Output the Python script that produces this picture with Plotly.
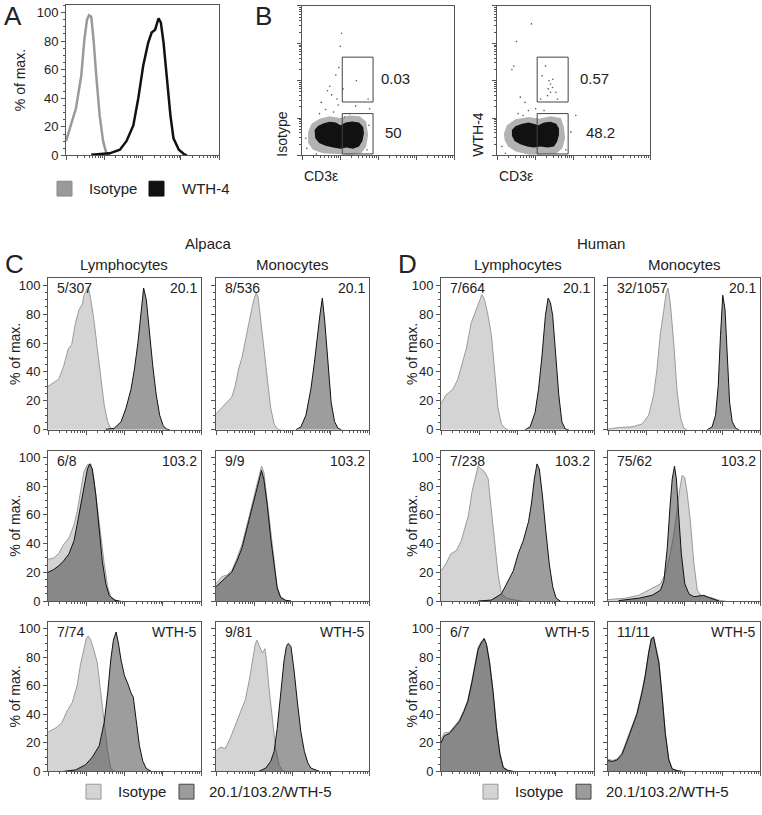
import numpy as np
import plotly.graph_objects as go

W, H = 762, 815
FONT = 'Liberation Sans, Arial, sans-serif'
INK = '#222222'
FRAME = '#555555'
ISO_FILL = '#d4d4d4'
ISO_LINE = '#9a9a9a'
POS_FILL = 'rgba(60,60,60,0.5)'
POS_LINE = '#111111'

# ---------------- data (x in log decades, y in % of max) ----------------
# A
a_iso_d = [0, 0.26, 0.40, 0.48, 0.55, 0.60, 0.66, 0.72, 0.79, 0.88, 0.97, 1.05, 1.14]
a_iso_v = [10, 33, 56, 81, 95, 98, 97, 81, 56, 28, 10, 2, 0]
a_wth_d = [0.66, 1.14, 1.41, 1.58, 1.76, 1.89, 2.02, 2.15, 2.24, 2.33, 2.42, 2.48, 2.55, 2.64, 2.73, 2.81, 2.95, 3.08, 3.16]
a_wth_v = [0.5, 1.5, 4, 10, 21, 40, 63, 79, 86, 88, 96, 93, 79, 51, 28, 12, 4, 1, 0]

# B (dot plot: outline of dense cluster, halo, sparse events, gates)
b1_core_x = [0.33, 0.42, 0.57, 0.73, 0.89, 1.01, 1.15, 1.32, 1.50, 1.61, 1.63, 1.59, 1.50, 1.34, 1.17, 1.01, 0.82, 0.62, 0.45, 0.35]
b1_core_y = [0.68, 0.79, 0.86, 0.90, 0.88, 0.81, 0.88, 0.91, 0.88, 0.76, 0.59, 0.39, 0.24, 0.18, 0.21, 0.18, 0.21, 0.26, 0.33, 0.46]
b1_halo_x = [0.16, 0.25, 0.46, 0.73, 0.99, 1.25, 1.52, 1.69, 1.74, 1.69, 1.56, 1.25, 0.90, 0.55, 0.29, 0.16]
b1_halo_y = [0.63, 0.85, 0.98, 1.05, 1.00, 1.07, 1.05, 0.90, 0.55, 0.24, 0.06, 0.02, 0.04, 0.06, 0.15, 0.33]
b1_dots_x = [1.04, 1.01, 0.97, 0.89, 0.73, 0.67, 0.78, 0.92, 0.95, 0.62, 0.46, 0.83, 1.12, 1.25, 1.43, 1.41, 1.74, 1.78, 0.10, 0.13, 0.38, 1.71, 1.76, 0.51, 1.08]
b1_dots_y = [3.27, 2.92, 2.35, 2.15, 1.85, 1.73, 1.62, 1.51, 1.35, 1.23, 1.12, 1.16, 1.03, 1.12, 2.00, 1.32, 1.51, 1.25, 0.46, 0.19, 0.04, 0.15, 0.81, 1.42, 1.78]
b1_gate_hi = [1.06, 1.87, 1.43, 2.63]
b1_gate_lo = [1.06, 1.87, 0.04, 1.12]
b1_pct = ['0.03', '50']

b2_core_x = [0.39, 0.48, 0.64, 0.82, 0.96, 1.08, 1.23, 1.40, 1.55, 1.62, 1.62, 1.57, 1.49, 1.32, 1.14, 0.96, 0.79, 0.61, 0.46, 0.39]
b2_core_y = [0.68, 0.78, 0.84, 0.88, 0.85, 0.81, 0.88, 0.90, 0.85, 0.72, 0.55, 0.37, 0.24, 0.21, 0.24, 0.21, 0.24, 0.30, 0.39, 0.53]
b2_halo_x = [0.18, 0.26, 0.48, 0.83, 1.10, 1.40, 1.67, 1.75, 1.78, 1.71, 1.54, 1.18, 0.83, 0.48, 0.29, 0.20]
b2_halo_y = [0.59, 0.81, 0.97, 1.03, 0.98, 1.05, 1.00, 0.76, 0.46, 0.19, 0.04, 0.02, 0.02, 0.11, 0.24, 0.41]
b2_dots_x = [0.90, 0.51, 0.44, 0.39, 0.61, 0.73, 0.82, 0.55, 0.68, 1.36, 1.40, 1.45, 1.34, 1.46, 1.32, 1.54, 1.18, 1.27, 1.58, 1.40, 1.01, 2.06, 1.93, 0.13, 0.22, 1.80, 1.23, 1.14]
b2_dots_y = [3.52, 3.05, 2.39, 2.30, 1.56, 1.42, 1.20, 1.12, 1.07, 2.00, 1.91, 1.82, 1.78, 2.04, 1.60, 1.69, 2.13, 2.39, 1.51, 1.69, 1.25, 1.07, 0.63, 0.24, 0.06, 0.15, 1.20, 1.51]
b2_gate_hi = [1.05, 1.86, 1.43, 2.63]
b2_gate_lo = [1.05, 1.86, 0.04, 1.12]
b2_pct = ['0.57', '48.2']

# C / D histograms, rows: 20.1, 103.2, WTH-5
cl1_iso_d = [0, 0.15, 0.28, 0.41, 0.53, 0.62, 0.72, 0.81, 0.90, 0.94, 1.00, 1.05, 1.12, 1.20, 1.29, 1.38, 1.47, 1.56, 1.64, 1.73]
cl1_iso_v = [30, 33, 35, 44, 56, 59, 74, 83, 87, 93, 97, 99, 90, 76, 56, 37, 17, 5.5, 1, 0]
cl1_pos_d = [1.51, 1.73, 1.91, 2.04, 2.17, 2.26, 2.35, 2.44, 2.50, 2.57, 2.65, 2.74, 2.83, 2.92, 3.01, 3.09, 3.18]
cl1_pos_v = [0.3, 1, 5.5, 15, 28, 42, 60, 83, 98, 90, 67, 44, 24, 10, 3, 0.5, 0]

cm1_iso_d = [0, 0.15, 0.28, 0.41, 0.50, 0.59, 0.68, 0.77, 0.85, 0.93, 0.99, 1.05, 1.10, 1.16, 1.25, 1.34, 1.43, 1.52, 1.60, 1.69]
cm1_iso_v = [11, 15, 19, 22.5, 30, 42, 50, 62, 74, 83, 90, 94.5, 92, 78, 56, 33, 15, 4, 0.5, 0]
cm1_pos_d = [2.09, 2.22, 2.35, 2.48, 2.57, 2.66, 2.72, 2.78, 2.84, 2.93, 3.01, 3.10, 3.19, 3.28]
cm1_pos_v = [0, 2, 10, 28, 46, 69, 80, 91, 76, 46, 19, 5.5, 1, 0]

dl1_iso_d = [0, 0.13, 0.22, 0.31, 0.44, 0.57, 0.66, 0.79, 0.92, 1.01, 1.07, 1.14, 1.23, 1.32, 1.41, 1.49, 1.58, 1.67, 1.76]
dl1_iso_v = [18, 24, 26, 28, 35, 47, 56, 74, 83, 90, 93.5, 90, 79, 65, 37.5, 15, 4, 1, 0]
dl1_pos_d = [2.20, 2.33, 2.46, 2.55, 2.64, 2.73, 2.80, 2.86, 2.92, 2.99, 3.08, 3.16, 3.25, 3.34]
dl1_pos_v = [0, 2, 12, 28, 51, 79, 91, 88, 79, 53, 24, 5.5, 0.5, 0]

dm1_iso_d = [0, 0.28, 0.63, 0.90, 1.07, 1.20, 1.29, 1.38, 1.47, 1.53, 1.58, 1.64, 1.73, 1.82, 1.91, 2.00, 2.08]
dm1_iso_v = [0.5, 1.5, 2, 4, 10, 24, 42, 67, 83, 94.5, 98, 87.5, 60, 26, 8, 1, 0]
dm1_pos_d = [2.61, 2.74, 2.83, 2.90, 2.96, 3.02, 3.08, 3.14, 3.20, 3.27, 3.36, 3.45]
dm1_pos_v = [0, 2, 10, 30, 65, 93, 83, 46, 19, 5.5, 1, 0]

cl2_iso_d = [0, 0.15, 0.28, 0.41, 0.55, 0.68, 0.76, 0.85, 0.94, 1.03, 1.12, 1.20, 1.29, 1.38, 1.47, 1.56, 1.64, 1.78, 1.91]
cl2_iso_v = [29, 30, 33, 39.5, 44, 53, 62, 76, 90, 95, 95.5, 85, 67, 46, 26, 10, 3, 0.5, 0]
cl2_pos_d = [0, 0.15, 0.28, 0.41, 0.55, 0.68, 0.76, 0.85, 0.94, 1.03, 1.09, 1.16, 1.25, 1.34, 1.42, 1.51, 1.60, 1.73, 1.86]
cl2_pos_v = [20, 22, 24.5, 28, 33, 42, 53, 67, 80.5, 92, 95.5, 92, 74, 51, 28, 12, 4, 0.7, 0]

cm2_iso_d = [0, 0.15, 0.28, 0.41, 0.55, 0.68, 0.81, 0.94, 1.03, 1.12, 1.19, 1.25, 1.34, 1.43, 1.52, 1.60, 1.69, 1.82, 1.96]
cm2_iso_v = [12, 17, 18, 21, 30, 39.5, 53, 67, 76, 87.5, 94, 90, 69, 46, 26, 10, 3, 0.5, 0]
cm2_pos_d = [0, 0.15, 0.28, 0.41, 0.55, 0.68, 0.81, 0.94, 1.03, 1.12, 1.19, 1.25, 1.34, 1.43, 1.52, 1.60, 1.69, 1.82, 1.96]
cm2_pos_v = [10, 14, 17, 20, 28, 37, 51, 65, 73, 83, 91, 85, 67, 44, 23.5, 9, 2.5, 0.5, 0]

dl2_iso_d = [0, 0.13, 0.26, 0.40, 0.53, 0.63, 0.72, 0.81, 0.90, 0.97, 1.05, 1.14, 1.23, 1.32, 1.41, 1.49, 1.58, 1.71, 1.93, 2.11]
dl2_iso_v = [21, 26, 33, 35, 42, 51, 60, 76, 87.5, 94, 92, 90, 85.5, 62, 42, 19, 5, 2, 0.7, 0]
dl2_pos_d = [0.97, 1.32, 1.58, 1.76, 1.89, 2.02, 2.15, 2.29, 2.37, 2.44, 2.51, 2.57, 2.65, 2.74, 2.83, 2.92, 3.01, 3.12]
dl2_pos_v = [0, 0.7, 5, 14, 21, 33, 42, 55.5, 69, 85, 95.5, 92, 74, 49, 26, 10, 2, 0]

dm2_iso_d = [0, 0.46, 0.81, 1.07, 1.25, 1.38, 1.51, 1.64, 1.73, 1.82, 1.89, 1.95, 2.02, 2.08, 2.17, 2.26, 2.35, 2.44, 2.57, 2.70, 2.83, 2.96, 3.09]
dm2_iso_v = [1, 2, 4, 7.5, 10, 12, 19, 33, 46, 65, 78, 87.5, 86, 76, 55, 26, 7.5, 4, 3.5, 2.5, 1.4, 0.3, 0]
dm2_pos_d = [0.28, 0.81, 1.16, 1.38, 1.47, 1.56, 1.63, 1.69, 1.75, 1.80, 1.86, 1.93, 2.02, 2.13, 2.26, 2.39, 2.52, 2.65, 2.79, 2.92]
dm2_pos_v = [0.3, 2, 4, 7.5, 14, 37, 65, 85, 94, 85, 60, 33, 12, 5, 3, 3.5, 4, 2.5, 1, 0]

cl3_iso_d = [0, 0.11, 0.24, 0.37, 0.50, 0.63, 0.76, 0.85, 0.94, 1.00, 1.05, 1.12, 1.20, 1.29, 1.38, 1.47, 1.56, 1.64, 1.73]
cl3_iso_v = [27.5, 29, 31, 34.5, 42.5, 48, 60, 75, 85, 93, 95, 92, 85, 76, 55, 32, 14, 2, 0]
cl3_pos_d = [0.41, 0.72, 0.98, 1.16, 1.34, 1.47, 1.56, 1.64, 1.71, 1.78, 1.84, 1.91, 2.00, 2.08, 2.17, 2.23, 2.30, 2.39, 2.48, 2.57, 2.70]
cl3_pos_v = [0, 1, 4.6, 10, 18, 34.5, 55, 78, 92, 97.7, 90, 78, 67, 62, 55, 52, 37, 18, 7, 2, 0]

cm3_iso_d = [0, 0.11, 0.24, 0.37, 0.50, 0.63, 0.77, 0.87, 0.96, 1.03, 1.07, 1.14, 1.21, 1.28, 1.32, 1.38, 1.47, 1.56, 1.65, 1.74, 1.82]
cm3_iso_v = [14, 17, 16, 23, 32, 41, 50.5, 64, 78, 89.7, 92, 87.5, 83, 86, 78, 60, 37, 16, 4.6, 0.5, 0]
cm3_pos_d = [1.12, 1.30, 1.43, 1.52, 1.60, 1.69, 1.78, 1.84, 1.89, 1.96, 2.04, 2.13, 2.22, 2.31, 2.40, 2.48, 2.62, 2.70]
cm3_pos_v = [0, 2.3, 7, 14, 30, 53, 78, 87.5, 89.7, 87.5, 71, 48, 27.5, 14, 6, 2.3, 0.5, 0]

dl3_iso_d = [0, 0.09, 0.22, 0.35, 0.48, 0.60, 0.70, 0.81, 0.90, 0.97, 1.05, 1.13, 1.19, 1.27, 1.36, 1.45, 1.54, 1.63, 1.76, 1.89]
dl3_iso_v = [22.5, 27, 27.5, 31.6, 36, 43, 50, 64, 77.5, 87, 91, 93.5, 89, 77.5, 57, 31.6, 13, 3, 0.5, 0]
dl3_pos_d = [0, 0.09, 0.22, 0.35, 0.48, 0.60, 0.70, 0.81, 0.90, 0.97, 1.05, 1.13, 1.19, 1.27, 1.36, 1.45, 1.54, 1.63, 1.76, 1.89]
dl3_pos_v = [20, 25, 26.6, 30.5, 35, 42, 49, 62.6, 76, 85.5, 90, 93, 89, 76, 56, 30.5, 12, 2.5, 0.5, 0]

dm3_iso_d = [0, 0.11, 0.24, 0.37, 0.50, 0.63, 0.76, 0.90, 0.98, 1.07, 1.14, 1.20, 1.27, 1.34, 1.42, 1.51, 1.60, 1.69, 1.82, 1.95]
dm3_iso_v = [8.7, 7.6, 8.7, 13, 22.5, 31.6, 41, 57, 68, 84, 93, 94.7, 86.7, 77.5, 55, 27, 8.7, 2, 0.5, 0]
dm3_pos_d = [0, 0.11, 0.24, 0.37, 0.50, 0.63, 0.76, 0.90, 0.98, 1.07, 1.14, 1.20, 1.27, 1.34, 1.42, 1.51, 1.60, 1.69, 1.82, 1.95]
dm3_pos_v = [7.6, 6.9, 8, 12, 21, 30.5, 40, 56, 67, 83, 93, 94, 85.5, 76, 53.7, 26, 8, 1.6, 0.5, 0]

c_counts = [['5/307', '8/536'], ['6/8', '9/9'], ['7/74', '9/81']]
d_counts = [['7/664', '32/1057'], ['7/238', '75/62'], ['6/7', '11/11']]
antibodies = ['20.1', '103.2', 'WTH-5']
species = ['Alpaca', 'Human']
cell_types = ['Lymphocytes', 'Monocytes']

# ---------------- layout helpers ----------------
fig = go.Figure()
axes = {}
annos = []
shapes = []
count = [0]
minor_log = [d + np.log10(k) for d in range(4) for k in range(2, 10)]


def dom(x0, x1, y0, y1):
    return [x0 / W, x1 / W], [1 - y1 / H, 1 - y0 / H]


def add_axes(box, yrange=None, log_y=False, ylabels=True):
    count[0] += 1
    s = '' if count[0] == 1 else str(count[0])
    xd, yd = dom(*box)
    common = dict(showgrid=False, zeroline=False, showline=True, linecolor=FRAME, linewidth=1,
                  mirror=True, ticks='outside', tickcolor=FRAME, ticklen=4, tickwidth=1,
                  fixedrange=True)
    log_minor = dict(tickmode='array', tickvals=minor_log, ticks='outside', ticklen=2, tickcolor=FRAME)
    axes['xaxis' + s] = dict(domain=xd, range=[0, 4], tickmode='array', tickvals=[0, 1, 2, 3, 4],
                             showticklabels=False, minor=log_minor, anchor='y' + s, **common)
    if log_y:
        axes['yaxis' + s] = dict(domain=yd, range=[0, 4], tickmode='array', tickvals=[0, 1, 2, 3, 4],
                                 showticklabels=False, minor=log_minor, anchor='x' + s, **common)
    else:
        axes['yaxis' + s] = dict(domain=yd, range=yrange, tickmode='array', tickvals=[0, 20, 40, 60, 80, 100],
                                 showticklabels=ylabels, tickfont=dict(size=13, color=INK),
                                 minor=dict(tickmode='linear', tick0=0, dtick=5, ticks='outside', ticklen=2, tickcolor=FRAME),
                                 anchor='x' + s, **common)
    return 'x' + s, 'y' + s


def text(x, y, t, size=14, xanchor='center', yanchor='middle', angle=0, xref='paper', yref='paper'):
    annos.append(dict(x=x, y=y, text=t, showarrow=False, xref=xref, yref=yref, xanchor=xanchor,
                      yanchor=yanchor, textangle=angle, font=dict(family=FONT, size=size, color=INK)))


def hist(xa, ya, d, v, fill, line):
    fig.add_trace(go.Scatter(x=d, y=v, mode='lines', fill='tozeroy', fillcolor=fill,
                             line=dict(color=line, width=1), xaxis=xa, yaxis=ya,
                             showlegend=False, hoverinfo='skip'))


def swatch(x0, y0, size, fill, line):
    shapes.append(dict(type='rect', xref='paper', yref='paper', x0=x0 / W, x1=(x0 + size) / W,
                       y0=1 - (y0 + size) / H, y1=1 - y0 / H, fillcolor=fill, line=dict(color=line, width=1)))


# ---------------- panel A ----------------
xa, ya = add_axes((66, 219, 5, 157), yrange=[0, 105.3])
fig.add_trace(go.Scatter(x=a_iso_d, y=a_iso_v, mode='lines', line=dict(color='#9a9a9a', width=2.5),
                         xaxis=xa, yaxis=ya, showlegend=False, hoverinfo='skip'))
fig.add_trace(go.Scatter(x=a_wth_d, y=a_wth_v, mode='lines', line=dict(color='#111111', width=2.5),
                         xaxis=xa, yaxis=ya, showlegend=False, hoverinfo='skip'))
text(2 / W, 1 - 16 / H, 'A', size=26, xanchor='left')
text(20 / W, 1 - 81 / H, '% of max.', angle=-90)
swatch(57, 183, 15, '#9a9a9a', '#8a8a8a')
text(87 / W, 1 - 190 / H, 'Isotype', size=15, xanchor='left')
swatch(149, 183, 15, '#111111', '#111111')
text(180 / W, 1 - 190 / H, 'WTH-4', size=15, xanchor='left')

# ---------------- panel B ----------------
text(253 / W, 1 - 16 / H, 'B', size=26, xanchor='left')
b_sets = [((302, 454, 6, 157), b1_halo_x, b1_halo_y, b1_core_x, b1_core_y, b1_dots_x, b1_dots_y,
           b1_gate_hi, b1_gate_lo, b1_pct, 'Isotype', 282, 0.0),
          ((497, 650, 6, 157), b2_halo_x, b2_halo_y, b2_core_x, b2_core_y, b2_dots_x, b2_dots_y,
           b2_gate_hi, b2_gate_lo, b2_pct, 'WTH-4', 478, 0.1)]
for box, hx, hy, cx, cy, dx, dy, ghi, glo, pct, ylab, ylab_x, shift in b_sets:
    xa, ya = add_axes(box, log_y=True)
    fig.add_trace(go.Scatter(x=hx, y=hy, mode='lines', fill='toself', fillcolor='rgba(0,0,0,0.3)',
                             line=dict(width=0), xaxis=xa, yaxis=ya, showlegend=False, hoverinfo='skip'))
    fig.add_trace(go.Scatter(x=cx, y=cy, mode='lines', fill='toself', fillcolor='#111111',
                             line=dict(width=0), xaxis=xa, yaxis=ya, showlegend=False, hoverinfo='skip'))
    fig.add_trace(go.Scatter(x=dx, y=dy, mode='markers', marker=dict(size=1.6, color='#555555'),
                             xaxis=xa, yaxis=ya, showlegend=False, hoverinfo='skip'))
    for g in (ghi, glo):
        fig.add_trace(go.Scatter(x=[g[0], g[1], g[1], g[0], g[0]], y=[g[2], g[2], g[3], g[3], g[2]],
                                 mode='lines', line=dict(color='#444444', width=1),
                                 xaxis=xa, yaxis=ya, showlegend=False, hoverinfo='skip'))
    text(2.03 + shift, 2.06, pct[0], size=15, xanchor='left', xref=xa, yref=ya)
    text(2.13 + shift * 1.5, 0.62, pct[1], size=15, xanchor='left', xref=xa, yref=ya)
    text(ylab_x / W, 1 - 136 / H, ylab, angle=-90)
    text(box[0] / W, 1 - 178 / H, 'CD3ε', xanchor='left')

# ---------------- panels C and D ----------------
rows = [(281, 434), (455, 607), (628, 779)]
cols = [[(48, 201), (216, 369)], [(441, 594), (608, 760)]]
curves = [
    [[(cl1_iso_d, cl1_iso_v, cl1_pos_d, cl1_pos_v), (cm1_iso_d, cm1_iso_v, cm1_pos_d, cm1_pos_v)],
     [(cl2_iso_d, cl2_iso_v, cl2_pos_d, cl2_pos_v), (cm2_iso_d, cm2_iso_v, cm2_pos_d, cm2_pos_v)],
     [(cl3_iso_d, cl3_iso_v, cl3_pos_d, cl3_pos_v), (cm3_iso_d, cm3_iso_v, cm3_pos_d, cm3_pos_v)]],
    [[(dl1_iso_d, dl1_iso_v, dl1_pos_d, dl1_pos_v), (dm1_iso_d, dm1_iso_v, dm1_pos_d, dm1_pos_v)],
     [(dl2_iso_d, dl2_iso_v, dl2_pos_d, dl2_pos_v), (dm2_iso_d, dm2_iso_v, dm2_pos_d, dm2_pos_v)],
     [(dl3_iso_d, dl3_iso_v, dl3_pos_d, dl3_pos_v), (dm3_iso_d, dm3_iso_v, dm3_pos_d, dm3_pos_v)]],
]
counts = [c_counts, d_counts]
letters = ['C', 'D']
ytitle_x = [15, 412]
legend_x = [86, 483]

for p in range(2):
    c0 = cols[p][0][0]
    c1 = cols[p][1][1]
    text((c0 + c1) / 2 / W, 1 - 246 / H, species[p], size=15)
    text((c0 - 45) / W, 1 - 267 / H, letters[p], size=26, xanchor='left')
    for c in range(2):
        x0, x1 = cols[p][c]
        text((x0 + x1) / 2 / W, 1 - 267 / H, cell_types[c], size=15)
    for r in range(3):
        y0, y1 = rows[r]
        text(ytitle_x[p] / W, 1 - (y0 + y1) / 2 / H, '% of max.', angle=-90)
        for c in range(2):
            x0, x1 = cols[p][c]
            top = 100 * (y1 - y0) / (y1 - y0 - 7)
            xa, ya = add_axes((x0, x1, y0, y1), yrange=[0, top], ylabels=(c == 0))
            iso_d, iso_v, pos_d, pos_v = curves[p][r][c]
            hist(xa, ya, iso_d, iso_v, ISO_FILL, ISO_LINE)
            hist(xa, ya, pos_d, pos_v, POS_FILL, POS_LINE)
            text(0.045, 1.0, counts[p][r][c], size=14, xanchor='left', yanchor='top',
                 xref=xa + ' domain', yref=ya + ' domain')
            text(0.985, 1.0, antibodies[r], size=14, xanchor='right', yanchor='top',
                 xref=xa + ' domain', yref=ya + ' domain')
    lx = legend_x[p]
    swatch(lx, 792, 15, ISO_FILL, '#999999')
    text((lx + 30) / W, 1 - 799 / H, 'Isotype', size=15, xanchor='left')
    swatch(lx + 93, 792, 15, '#9c9c9c', '#444444')
    text((lx + 121) / W, 1 - 799 / H, '20.1/103.2/WTH-5', size=15, xanchor='left')

fig.update_layout(width=W, height=H, margin=dict(l=0, r=0, t=0, b=0),
                  paper_bgcolor='white', plot_bgcolor='white',
                  font=dict(family=FONT, size=13, color=INK),
                  annotations=annos, shapes=shapes, showlegend=False, **axes)

# the page body has a default 8px margin; drop it so the figure sits at the window origin
fig.write_html("out.html", config={'displayModeBar': False},
               post_script="document.body.style.margin = '0';")
